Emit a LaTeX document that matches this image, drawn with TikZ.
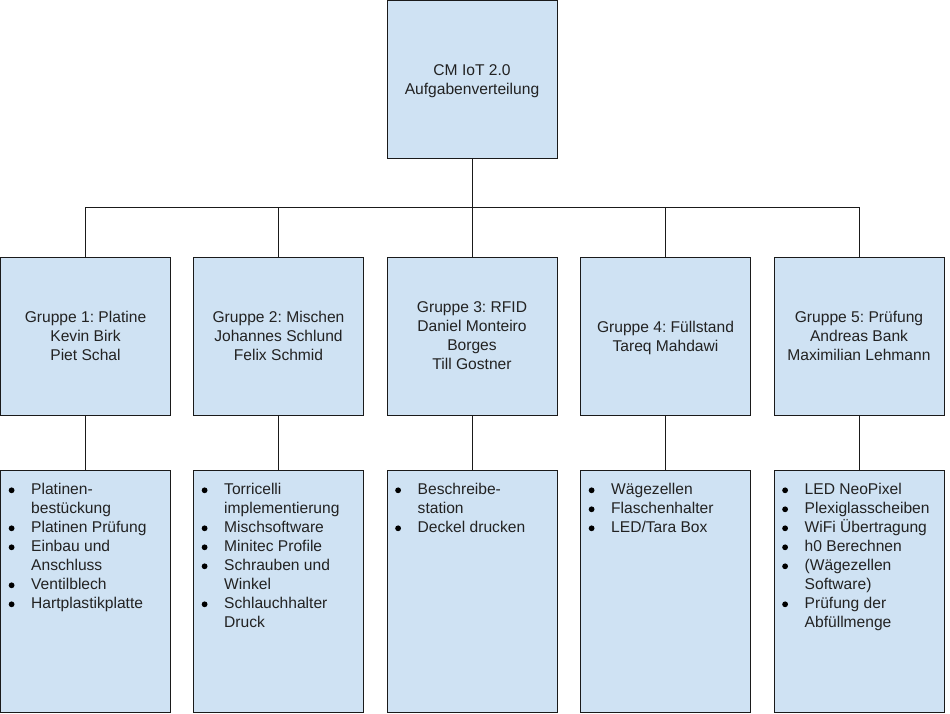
\documentclass[tikz,border=0pt]{standalone}
\usepackage{fontspec}
\setmainfont{Liberation Sans}
\usepackage{array}
\definecolor{boxfill}{HTML}{CFE2F3}
\definecolor{txt}{HTML}{222222}
\definecolor{edge}{HTML}{1A1A1A}
\newcommand\bulletdot{\tikz[x=1cm,y=1cm,baseline=-4.4pt]{\fill[black] (0,0) circle (2.9pt);}}
\newcommand\bit{\bulletdot&}
\frenchspacing
\begin{document}
\begin{tikzpicture}[x=1pt,y=-1pt,
  box/.style={draw=edge, fill=boxfill, line width=1pt, minimum width=170pt, inner sep=0pt, align=center, text=txt, font=\fontsize{15.6}{19}\selectfont},
  headbox/.style={box, minimum height=158pt},
  taskbox/.style={box, minimum height=242pt},
  boxtext/.style={inner sep=0pt, align=center, text=txt, font=\fontsize{15.6}{19}\selectfont},
  tasklist/.style={inner sep=0pt, anchor=north west, text=txt, font=\fontsize{15.6}{19}\selectfont},
  conn/.style={draw=edge, line width=1pt}]
\useasboundingbox (0,0) rectangle (950,713);
% top
\node[headbox] (top) at (472,79) {};
\node[boxtext] (toptext) at ([yshift=-2pt]top.center) {CM IoT 2.0\\Aufgabenverteilung};
% groups
\node[headbox] (g1) at (85.5,336) {Gruppe 1: Platine\\Kevin Birk\\Piet Schal};
\node[headbox] (g2) at (278.5,336) {Gruppe 2: Mischen\\Johannes Schlund\\Felix Schmid};
\node[headbox] (g3) at (472,336) {Gruppe 3: RFID\\Daniel Monteiro\\Borges\\Till Gostner};
\node[headbox] (g4) at (665.5,336) {};
\node[boxtext] (g4text) at ([yshift=-2pt]g4.center) {Gruppe 4: Füllstand\\Tareq Mahdawi};
\node[headbox] (g5) at (859,336) {Gruppe 5: Prüfung\\Andreas Bank\\Maximilian Lehmann};
% task boxes
\node[taskbox] (t1) at (85.5,591) {};
\node[taskbox] (t2) at (278.5,591) {};
\node[taskbox] (t3) at (472,591) {};
\node[taskbox] (t4) at (665.5,591) {};
\node[taskbox] (t5) at (859,591) {};
% lists
\node[tasklist] (l1) at ([shift={(8.5pt,-11.7pt)}]t1.north west) {\begin{tabular}{@{}p{22.5pt}@{}l@{}}
\bit Platinen-\\ & bestückung\\ \bit Platinen Prüfung\\ \bit Einbau und\\ & Anschluss\\ \bit Ventilblech\\ \bit Hartplastikplatte\end{tabular}};
\node[tasklist] (l2) at ([shift={(8.5pt,-11.7pt)}]t2.north west) {\begin{tabular}{@{}p{22.5pt}@{}l@{}}
\bit Torricelli\\ & implementierung\\ \bit Mischsoftware\\ \bit Minitec Profile\\ \bit Schrauben und\\ & Winkel\\ \bit Schlauchhalter\\ & Druck\end{tabular}};
\node[tasklist] (l3) at ([shift={(8.5pt,-11.7pt)}]t3.north west) {\begin{tabular}{@{}p{22.5pt}@{}l@{}}
\bit Beschreibe-\\ & station\\ \bit Deckel drucken\end{tabular}};
\node[tasklist] (l4) at ([shift={(8.5pt,-11.7pt)}]t4.north west) {\begin{tabular}{@{}p{22.5pt}@{}l@{}}
\bit Wägezellen\\ \bit Flaschenhalter\\ \bit LED/Tara Box\end{tabular}};
\node[tasklist] (l5) at ([shift={(8.5pt,-11.7pt)}]t5.north west) {\begin{tabular}{@{}p{22.5pt}@{}l@{}}
\bit LED NeoPixel\\ \bit Plexiglasscheiben\\ \bit WiFi Übertragung\\ \bit h0 Berechnen\\ \bit (Wägezellen\\ & Software)\\ \bit Prüfung der\\ & Abfüllmenge\end{tabular}};
% connectors
\coordinate (hy) at (0,207);
\draw[conn] (top.south) -- (top.south |- hy);
\draw[conn] (g1.north) -- (g1.north |- hy) -| (g5.north);
\draw[conn] (g2.north) -- (g2.north |- hy);
\draw[conn] (g3.north) -- (g3.north |- hy);
\draw[conn] (g4.north) -- (g4.north |- hy);
\foreach \i in {1,...,5}{\draw[conn] (g\i.south) -- (t\i.north);}
\end{tikzpicture}
\end{document}
